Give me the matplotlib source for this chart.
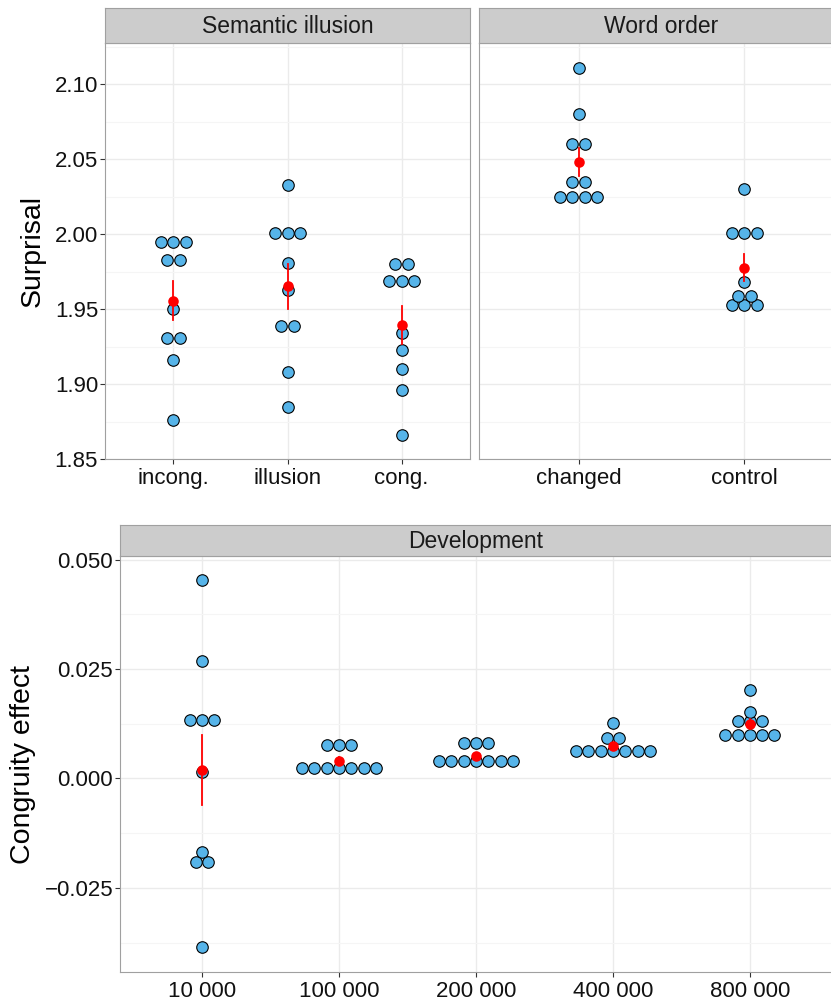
import numpy as np
import matplotlib.pyplot as plt
from matplotlib.ticker import MultipleLocator, FuncFormatter

plt.rcParams['font.family'] = ['Liberation Sans', 'DejaVu Sans']

# Dados
si_labels = ['incong.', 'illusion', 'cong.']
si_incong = [1.995, 1.995, 1.995, 1.983, 1.983, 1.950, 1.931, 1.931, 1.916, 1.876]
si_illusion = [2.0325, 2.001, 2.001, 2.001, 1.981, 1.963, 1.939, 1.939, 1.908, 1.885]
si_cong = [1.980, 1.980, 1.969, 1.969, 1.969, 1.934, 1.923, 1.910, 1.896, 1.866]

wo_labels = ['changed', 'control']
wo_changed = [2.111, 2.080, 2.060, 2.060, 2.0345, 2.0345, 2.0245, 2.0245, 2.0245, 2.0245]
wo_control = [2.030, 2.001, 2.001, 2.001, 1.968, 1.959, 1.959, 1.9525, 1.9525, 1.9525]

dev_labels = ['10 000', '100 000', '200 000', '400 000', '800 000']
dev_10k = [0.0453, 0.0268, 0.0133, 0.0133, 0.0133, 0.0015, -0.0169, -0.0190, -0.0190, -0.0384]
dev_100k = [0.0076, 0.0076, 0.0076] + [0.0025] * 7
dev_200k = [0.0080, 0.0080, 0.0080] + [0.0039] * 7
dev_400k = [0.0126, 0.0092, 0.0092] + [0.0062] * 7
dev_800k = [0.0201, 0.0152, 0.0132, 0.0132, 0.0132] + [0.0099] * 5

W, H = 831, 1000
DOT_PX = 12.3
fill = '#56B4E9'
border = '#A0A0A0'


def px_box(x0, y0, x1, y1):
    return [x0 / W, 1 - y1 / H, (x1 - x0) / W, (y1 - y0) / H]


def strip(fig, box, text):
    s = fig.add_axes(box)
    s.set_facecolor('#CCCCCC')
    s.set_xticks([])
    s.set_yticks([])
    for sp in s.spines.values():
        sp.set_color(border)
        sp.set_linewidth(0.8)
    s.text(0.5, 0.47, text, ha='center', va='center', fontsize=16.5,
           color='#1A1A1A', transform=s.transAxes)


def panel(fig, box, groups, labels, ylim, ymaj, dec, show_y=True):
    ax = fig.add_axes(box)
    ax.set_xlim(0.4, len(groups) + 0.6)
    ax.set_ylim(*ylim)
    ax.set_facecolor('white')
    ax.yaxis.set_major_locator(MultipleLocator(ymaj))
    ax.yaxis.set_minor_locator(MultipleLocator(ymaj / 2))
    ax.yaxis.set_major_formatter(
        FuncFormatter(lambda v, p: f'{v:.{dec}f}'.replace('-', '\u2212')))
    ax.set_xticks(range(1, len(groups) + 1))
    ax.set_xticklabels(labels)
    ax.grid(which='major', color='#EBEBEB', linewidth=1.0)
    ax.grid(which='minor', axis='y', color='#F5F5F5', linewidth=0.8)
    ax.set_axisbelow(True)
    for sp in ax.spines.values():
        sp.set_color(border)
        sp.set_linewidth(0.8)
    ax.tick_params(axis='both', which='major', length=3.5, width=0.8,
                   color='#333333', labelsize=16, labelcolor='#111111')
    ax.tick_params(axis='x', pad=3)
    ax.tick_params(axis='y', pad=1.5)
    ax.tick_params(which='minor', length=0)
    if not show_y:
        ax.tick_params(axis='y', which='both', left=False, labelleft=False)

    # diametro do ponto em unidades de x
    d = DOT_PX * (len(groups) + 0.2) / (box[2] * W)
    for i, vals in enumerate(groups, start=1):
        vals = np.array(vals)
        for v in np.unique(vals):
            n = np.sum(vals == v)
            xs = i + (np.arange(n) - (n - 1) / 2) * d
            ax.plot(xs, [v] * n, 'o', ms=8.3, mfc=fill, mec='black',
                    mew=0.8, zorder=3, clip_on=False)
        m = vals.mean()
        se = vals.std(ddof=1) / np.sqrt(len(vals))
        ax.plot([i, i], [m - se, m + se], color='red', lw=1.3, zorder=4)
        ax.plot(i, m, 'o', ms=7.6, color='red', mec='none', zorder=5)
    return ax


fig = plt.figure(figsize=(W / 100, H / 100), dpi=100)

# Painel superior esquerdo
panel(fig, px_box(105, 43, 470, 459), [si_incong, si_illusion, si_cong],
      si_labels, (1.85, 2.1274), 0.05, 2)
strip(fig, px_box(105, 8, 470, 43), 'Semantic illusion')

# Painel superior direito (cortado na borda)
panel(fig, px_box(479, 43, 844, 459), [wo_changed, wo_control],
      wo_labels, (1.85, 2.1274), 0.05, 2, show_y=False)
strip(fig, px_box(479, 8, 844, 43), 'Word order')

# Painel inferior
panel(fig, px_box(120, 556, 832, 972),
      [dev_10k, dev_100k, dev_200k, dev_400k, dev_800k],
      dev_labels, (-0.0442, 0.0508), 0.025, 3)
strip(fig, px_box(120, 525, 832, 556), 'Development')

fig.text(33 / W, 1 - 251 / H, 'Surprisal', rotation=90, ha='center',
         va='center', fontsize=20.5, color='black')
fig.text(23 / W, 1 - 764 / H, 'Congruity effect', rotation=90, ha='center',
         va='center', fontsize=20.5, color='black')

fig.savefig('out.png', dpi=100)
